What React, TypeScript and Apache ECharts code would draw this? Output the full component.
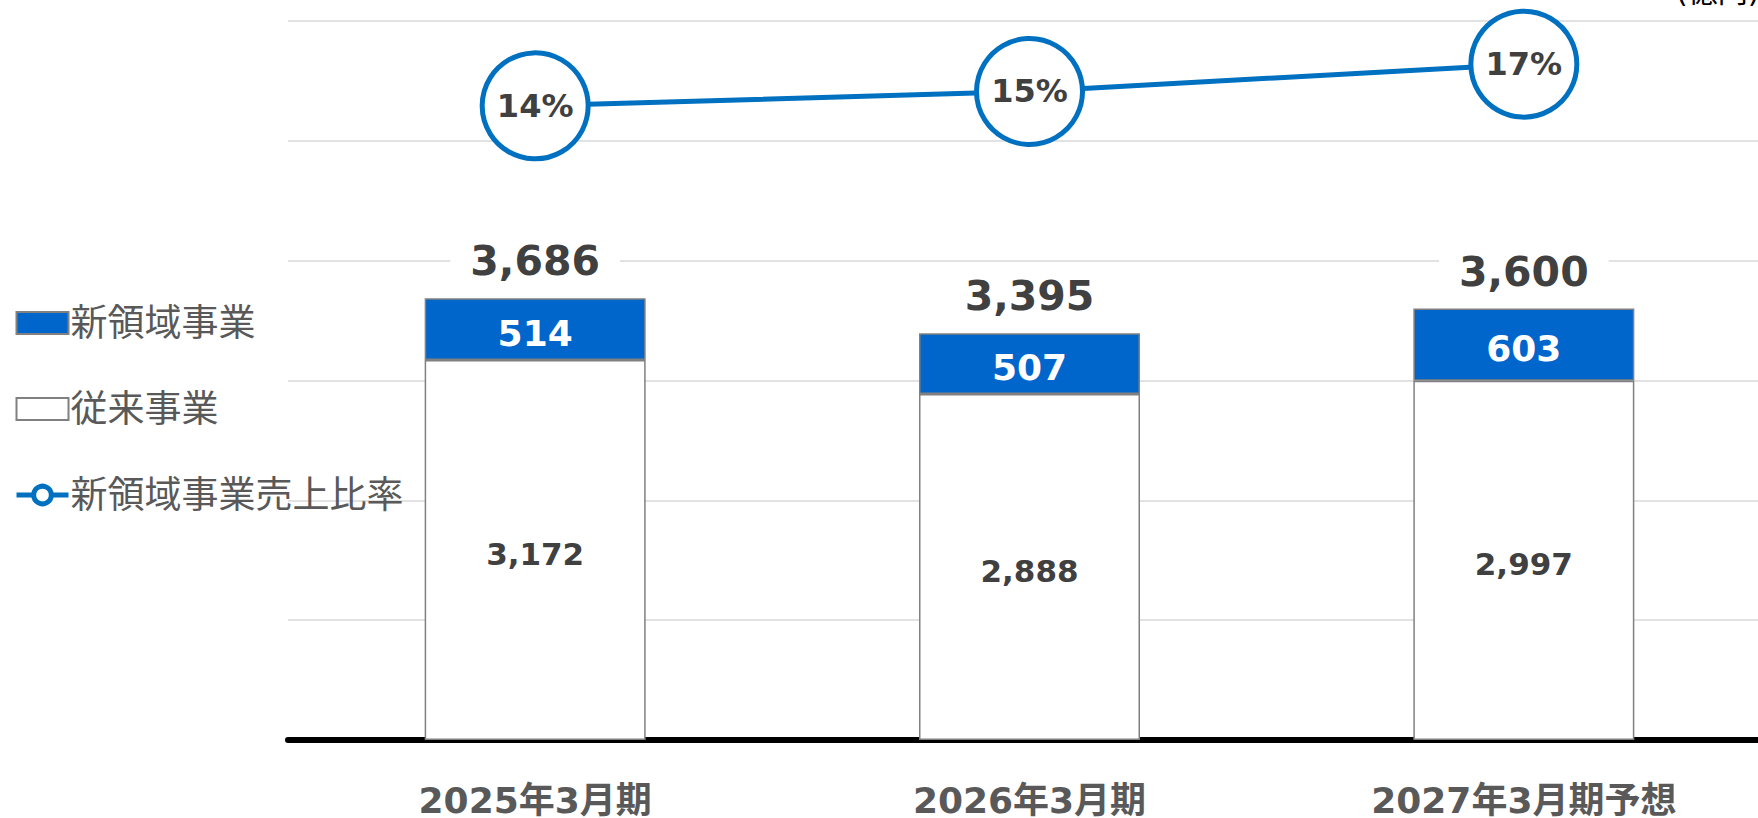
import React, { useEffect, useRef } from "react";
import * as echarts from "echarts";

const categories = ["2025年3月期", "2026年3月期", "2027年3月期予想"];
const existingBusiness = [3172, 2888, 2997];
const newBusiness = [514, 507, 603];
const totals = [3686, 3395, 3600];
const newBusinessRatio = [14.1, 15.1, 17.0];
const unitLabel = "(億円)";

const FONT = '"DejaVu Sans", "Noto Sans CJK JP", sans-serif';
const fmt = (v: number) => v.toLocaleString("en-US");

export default function App() {
  const ref = useRef<HTMLDivElement>(null);
  useEffect(() => {
    const chart = echarts.init(ref.current!, null, { renderer: "svg" });
    chart.setOption({
      animation: false,
      textStyle: { fontFamily: FONT },
      grid: { left: 288, right: 0, top: 21, bottom: 74 },
      legend: {
        orient: "vertical",
        left: 9,
        top: 298,
        itemWidth: 52,
        itemHeight: 22,
        itemGap: 46,
        textStyle: { fontSize: 37, color: "#595959", lineHeight: 40, fontFamily: FONT, padding: [0, 0, 0, -3] },
        data: [
          { name: "新領域事業", icon: "rect" },
          { name: "従来事業", icon: "rect" },
          {
            name: "新領域事業売上比率",
            itemStyle: { borderWidth: 5, borderColor: "#0070C0", color: "#ffffff" },
            lineStyle: { width: 5, color: "#0070C0" },
          },
        ],
      },
      graphic: [
        {
          type: "text",
          left: 1676,
          top: -24,
          style: { text: unitLabel, fontSize: 30, fill: "#000", fontFamily: FONT },
        },
      ],
      xAxis: {
        type: "category",
        data: categories,
        axisLine: { lineStyle: { color: "#000", width: 6 } },
        axisTick: { show: false },
        axisLabel: {
          fontSize: 36,
          lineHeight: 34,
          fontWeight: "bold",
          color: "#595959",
          margin: 43,
          fontFamily: FONT,
        },
      },
      yAxis: [
        {
          type: "value",
          min: 0,
          max: 6000,
          interval: 1000,
          axisLabel: { show: false },
          axisLine: { show: false },
          axisTick: { show: false },
          splitLine: { lineStyle: { color: "#D9D9D9", width: 1.5 } },
        },
        { type: "value", min: -30, max: 20, show: false, splitLine: { show: false } },
      ],
      series: [
        {
          name: "従来事業",
          type: "bar",
          stack: "total",
          data: existingBusiness,
          barWidth: 221,
          itemStyle: { color: "#ffffff", borderColor: "#808080", borderWidth: 1.5 },
          label: {
            show: true,
            position: "inside",
            offset: [0, 4],
            fontSize: 31,
            fontWeight: "bold",
            color: "#404040",
            fontFamily: FONT,
            formatter: (p: any) => fmt(p.value),
          },
        },
        {
          name: "新領域事業",
          type: "bar",
          stack: "total",
          data: newBusiness,
          barWidth: 221,
          itemStyle: { color: "#0066CC", borderColor: "#808080", borderWidth: 1.5 },
          label: {
            show: true,
            position: "inside",
            offset: [0, 4],
            fontSize: 36,
            fontWeight: "bold",
            color: "#ffffff",
            fontFamily: FONT,
            formatter: (p: any) => fmt(p.value),
          },
        },
        {
          name: "合計",
          type: "scatter",
          data: totals,
          symbolSize: 1,
          silent: true,
          itemStyle: { color: "rgba(0,0,0,0)", opacity: 1 },
          label: {
            show: true,
            position: "top",
            distance: 14,
            fontSize: 41,
            fontWeight: "bold",
            color: "#404040",
            opacity: 1,
            fontFamily: FONT,
            backgroundColor: "#ffffff",
            padding: [2, 20],
            formatter: (p: any) => fmt(p.value),
          },
          z: 5,
        },
        {
          name: "新領域事業売上比率",
          type: "line",
          yAxisIndex: 1,
          data: newBusinessRatio,
          symbol: "circle",
          symbolSize: 106,
          itemStyle: { color: "#ffffff", borderColor: "#0070C0", borderWidth: 5 },
          lineStyle: { color: "#0070C0", width: 5 },
          label: {
            show: true,
            position: "inside",
            fontSize: 32,
            fontWeight: "bold",
            color: "#404040",
            fontFamily: FONT,
            formatter: (p: any) => Math.round(p.value) + "%",
          },
          z: 10,
        },
      ],
    });
    return () => chart.dispose();
  }, []);
  return (
    <div style={{ position: "absolute", left: 0, top: 0, width: 1758, height: 818, overflow: "hidden" }}>
      <div ref={ref} style={{ position: "absolute", left: 0, top: 0, width: 1771, height: 818 }} />
    </div>
  );
}
